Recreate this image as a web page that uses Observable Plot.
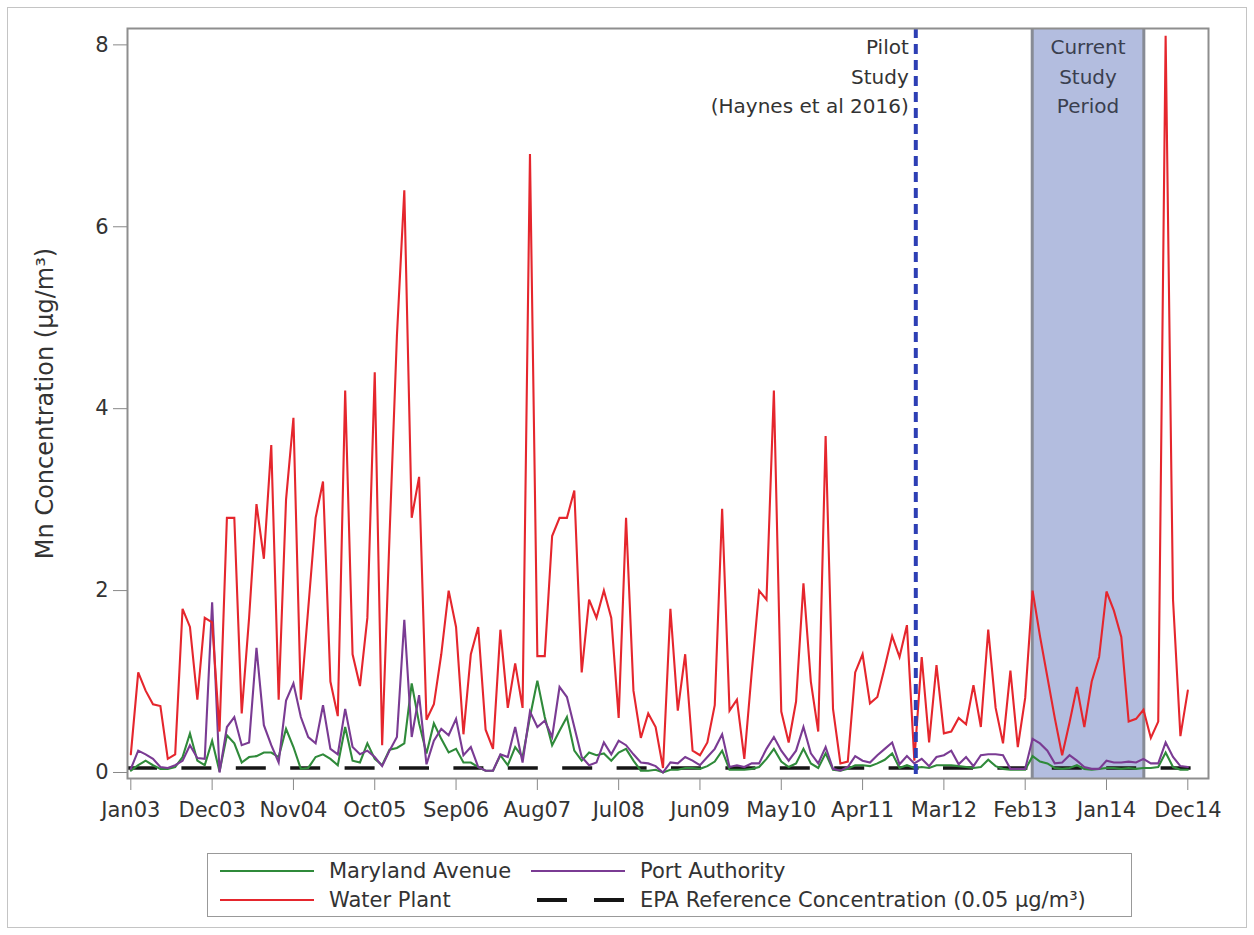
<!DOCTYPE html>
<html><head><meta charset="utf-8">
<script src="https://cdn.jsdelivr.net/npm/d3@7"></script>
<script src="https://cdn.jsdelivr.net/npm/@observablehq/plot@0.6"></script>
<style>
body{margin:0;background:#fff;font-family:"DejaVu Sans",sans-serif;}
#wrap{position:relative;width:1254px;height:935px;overflow:hidden;background:#fff;}
#border{position:absolute;left:7px;top:7px;width:1240px;height:921px;border:1.5px solid #c4c4c4;box-sizing:border-box;}
#chart{position:absolute;left:0;top:0;}
#legend{position:absolute;left:207px;top:853px;width:925px;height:64px;border:1.5px solid #999;box-sizing:border-box;}
.item{position:absolute;height:30px;display:flex;align-items:center;font-size:21px;color:#333;white-space:nowrap;}
.item svg{margin-right:15px;}
</style></head>
<body><div id="wrap"><div id="border"></div><div id="chart"></div><div id="legend"></div></div>
<script>
// x tick labels (every 11 months, Jan 2003 .. Dec 2014)
const tickLabels = ["Jan03","Dec03","Nov04","Oct05","Sep06","Aug07","Jul08","Jun09","May10","Apr11","Mar12","Feb13","Jan14","Dec14"];
// monthly Mn concentration (µg/m³), Jan 2003 .. Dec 2014
const waterPlant = [0.2,1.1,0.9,0.75,0.73,0.15,0.2,1.8,1.6,0.8,
 1.7,1.65,0.45,2.8,2.8,0.65,1.7,2.95,2.35,3.6,
 0.8,3.0,3.9,0.8,1.8,2.8,3.2,1.0,0.62,4.2,
 1.3,0.95,1.7,4.4,0.3,2.6,4.8,6.4,2.8,3.25,
 0.58,0.75,1.3,2.0,1.6,0.42,1.3,1.6,0.47,0.26,
 1.57,0.71,1.2,0.71,6.8,1.28,1.28,2.6,2.8,2.8,
 3.1,1.1,1.9,1.7,2.0,1.7,0.6,2.8,0.9,0.38,
 0.65,0.5,0.05,1.8,0.68,1.3,0.24,0.19,0.33,0.74,
 2.9,0.68,0.8,0.15,1.1,2.0,1.9,4.2,0.67,0.33,
 0.78,2.08,1.0,0.45,3.7,0.7,0.1,0.12,1.1,1.3,
 0.76,0.83,1.16,1.5,1.27,1.62,0.13,1.27,0.33,1.18,
 0.43,0.45,0.6,0.53,0.96,0.5,1.57,0.71,0.32,1.12,
 0.28,0.82,2.0,1.5,1.05,0.6,0.19,0.55,0.94,0.5,
 1.0,1.27,1.99,1.78,1.49,0.56,0.59,0.69,0.38,0.56,
 8.1,1.9,0.4,0.9];
const marylandAvenue = [0.02,0.08,0.13,0.08,0.04,0.04,0.06,0.17,0.43,0.13,
 0.08,0.35,0.01,0.41,0.32,0.11,0.17,0.18,0.22,0.22,
 0.17,0.48,0.28,0.04,0.05,0.17,0.2,0.15,0.08,0.5,
 0.13,0.11,0.32,0.15,0.08,0.25,0.27,0.32,0.98,0.54,
 0.21,0.54,0.37,0.22,0.26,0.11,0.11,0.06,0.02,0.02,
 0.19,0.08,0.28,0.17,0.61,1.01,0.61,0.3,0.46,0.61,
 0.24,0.13,0.22,0.19,0.21,0.13,0.22,0.26,0.13,0.02,
 0.02,0.03,0.0,0.03,0.03,0.05,0.05,0.04,0.07,0.12,
 0.24,0.03,0.03,0.03,0.04,0.06,0.15,0.26,0.12,0.06,
 0.1,0.26,0.1,0.05,0.21,0.03,0.02,0.04,0.08,0.08,
 0.07,0.1,0.14,0.21,0.05,0.08,0.05,0.06,0.05,0.08,
 0.08,0.08,0.07,0.06,0.05,0.06,0.14,0.07,0.04,0.03,
 0.03,0.03,0.18,0.12,0.1,0.05,0.04,0.05,0.08,0.04,
 0.03,0.04,0.05,0.05,0.04,0.05,0.04,0.05,0.05,0.06,
 0.22,0.06,0.03,0.03];
const portAuthority = [0.04,0.24,0.2,0.15,0.06,0.05,0.08,0.13,0.3,0.16,
 0.15,1.87,0.0,0.5,0.61,0.3,0.33,1.37,0.52,0.3,
 0.11,0.79,0.98,0.61,0.39,0.32,0.74,0.26,0.2,0.7,
 0.28,0.2,0.24,0.17,0.07,0.24,0.39,1.68,0.39,0.85,
 0.09,0.35,0.48,0.41,0.59,0.19,0.28,0.06,0.02,0.02,
 0.2,0.17,0.5,0.11,0.67,0.5,0.57,0.39,0.94,0.83,
 0.5,0.17,0.08,0.11,0.33,0.2,0.35,0.3,0.2,0.11,
 0.1,0.07,0.0,0.11,0.1,0.17,0.13,0.08,0.17,0.26,
 0.42,0.06,0.08,0.06,0.1,0.1,0.26,0.39,0.24,0.13,
 0.24,0.5,0.21,0.1,0.28,0.04,0.02,0.06,0.18,0.13,
 0.11,0.19,0.26,0.33,0.09,0.18,0.1,0.15,0.07,0.17,
 0.19,0.24,0.09,0.17,0.07,0.19,0.2,0.2,0.19,0.04,
 0.04,0.04,0.37,0.32,0.24,0.1,0.11,0.19,0.13,0.06,
 0.04,0.04,0.13,0.11,0.11,0.12,0.11,0.15,0.1,0.1,
 0.33,0.17,0.07,0.06];
const epaReference = 0.05;          // µg/m³
const pilotStudyMonth = 106.2;      // month index (Nov 2011)
const studyPeriod = [121.95, 137.05]; // month index range (Mar 2013 .. Jun 2014)
const yTicks = [0, 2, 4, 6, 8];

const seriesNames = ["Maryland Avenue", "Port Authority", "Water Plant"];
const seriesColors = ["#2f8a3a", "#7a3b93", "#e5262d"];
const seriesValues = [marylandAvenue, portAuthority, waterPlant];

const months = d3.range(waterPlant.length);
const rows = seriesValues.flatMap((vals, s) => months.map(m => ({month: m, value: vals[m], series: seriesNames[s]})));
const xTickIdx = tickLabels.map((_, k) => k * 11);

const chart = Plot.plot({
  width: 1254, height: 840,
  marginLeft: 127, marginRight: 46, marginTop: 28, marginBottom: 62,
  style: {fontFamily: "DejaVu Sans, sans-serif", color: "#333", background: "transparent", overflow: "visible"},
  x: {domain: [-0.45, 145.8]},
  y: {domain: [-0.066, 8.18]},
  color: {domain: seriesNames, range: seriesColors},
  marks: [
    Plot.rect([studyPeriod], {x1: d => d[0], x2: d => d[1], fill: "#b3bddf"}),
    Plot.ruleX(studyPeriod, {stroke: "#878b95", strokeWidth: 3}),
    Plot.ruleY([epaReference], {stroke: "#151515", strokeWidth: 3.5, strokeDasharray: "30,24.4"}),
    Plot.line(rows, {x: "month", y: "value", z: "series", stroke: "series", strokeWidth: 2.1, strokeLinejoin: "miter", strokeMiterlimit: 4}),
    Plot.ruleX([pilotStudyMonth], {stroke: "#2d3fb4", strokeWidth: 4, strokeDasharray: "10,6"}),
    Plot.text(["Pilot\nStudy\n(Haynes et al 2016)"], {x: pilotStudyMonth, frameAnchor: "top", textAnchor: "end", lineAnchor: "top", dx: -7, dy: 5, fontSize: 20, lineHeight: 1.47, fill: "#333"}),
    Plot.text(["Current\nStudy\nPeriod"], {x: (studyPeriod[0] + studyPeriod[1]) / 2, frameAnchor: "top", textAnchor: "middle", lineAnchor: "top", dy: 5, fontSize: 20, lineHeight: 1.47, fill: "#3a3f4f"}),
    Plot.axisX(xTickIdx, {tickFormat: d => tickLabels[d / 11], fontSize: 21, tickSize: 12, tickPadding: 12, stroke: "#888", label: null}),
    Plot.axisY(yTicks, {tickFormat: d => String(d), fontSize: 21, tickSize: 14, tickPadding: 5, stroke: "#888", label: null}),
    Plot.text(["Mn Concentration (µg/m³)"], {frameAnchor: "left", textAnchor: "middle", rotate: -90, dx: -82, fontSize: 24, fill: "#333"}),
    Plot.frame({stroke: "#8e8e8e", strokeWidth: 2})
  ]
});
document.getElementById("chart").appendChild(chart);

// legend
const legendItems = [
  {label: "Maryland Avenue", color: seriesColors[0], dash: null, left: 12, top: 2},
  {label: "Port Authority", color: seriesColors[1], dash: null, left: 323, top: 2},
  {label: "Water Plant", color: seriesColors[2], dash: null, left: 12, top: 31},
  {label: "EPA Reference Concentration (0.05 µg/m³)", color: "#151515", dash: "30,27", left: 323, top: 31}
];
const legend = document.getElementById("legend");
for (const it of legendItems) {
  const div = document.createElement("div");
  div.className = "item";
  div.style.left = it.left + "px";
  div.style.top = it.top + "px";
  const w = 94;
  div.innerHTML = `<svg width="${w}" height="10"><line x1="${it.dash ? 6 : 0}" x2="${w}" y1="5" y2="5" stroke="${it.color}" stroke-width="${it.dash ? 4 : 2}" ${it.dash ? `stroke-dasharray="${it.dash}"` : ""}/></svg><span>${it.label}</span>`;
  legend.appendChild(div);
}
</script>
</body></html>
